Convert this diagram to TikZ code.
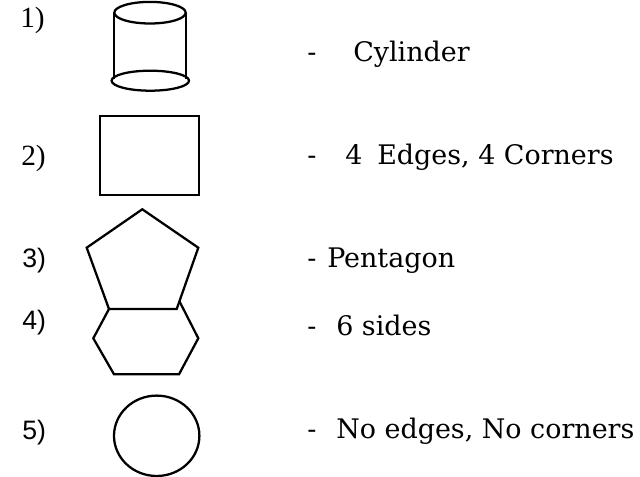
\documentclass[tikz,border=0pt]{standalone}
\usepackage{fontspec}
\setmainfont{Liberation Serif}
\newfontfamily\labelfont{DejaVu Serif}
\newfontfamily\numsans{Liberation Sans}
\newcommand\numsize{\fontsize{20}{24}\selectfont}
\newcommand\numsizeserif{\fontsize{22}{26}\selectfont}
\begin{document}
\begin{tikzpicture}[x=0.75pt,y=-0.75pt,
  shapeline/.style={draw=black,line width=1.7pt,line join=miter},
  lbl/.style={inner sep=0pt,anchor=base west,font=\labelfont\fontsize{20.2}{24}\selectfont},
  numpos/.style={inner sep=0pt,anchor=base west}]
\useasboundingbox (0,0) rectangle (640,477);

% item numbers
\node[numpos] (n1) at (20,27.5) {\numsizeserif 1)};
\node[numpos] (n2) at (21,165.5) {\numsizeserif 2)};
\node[numpos] (n3) at (22,268) {\numsize\numsans 3)};
\node[numpos] (n4) at (22,330) {\numsize\numsans 4)};
\node[numpos] (n5) at (22,440) {\numsize\numsans 5)};

% cylinder
\draw[shapeline] (114.3,12.7) -- (114.3,79);
\draw[shapeline] (185.7,12.7) -- (185.7,79);
\draw[shapeline] (150,12.7) ellipse [x radius=35.7,y radius=10.8];
\draw[shapeline] (150.3,80.7) ellipse [x radius=38.7,y radius=10];

% rectangle
\draw[shapeline] (100,116) rectangle (199,195);

% pentagon
\draw[shapeline] (142.3,209.3) -- (198.3,247.7) -- (176.7,309) -- (109,309) -- (86.7,247.7) -- cycle;
% hexagon, sharing the pentagon's lower edge
\draw[shapeline] (179.3,301) -- (198.3,338.3) -- (179,374.3) -- (114,374.3) -- (93.3,338.3) -- (109,309);

% circle
\draw[shapeline] (156.7,435.8) ellipse [x radius=42.7,y radius=40.2];

% descriptions
\node[lbl] (d1) at (307,62) {-};
\node[lbl] (t1) at (353,62) {Cylinder};
\node[lbl] (d2) at (307,165) {-};
\node[lbl] (t2a) at (345,165) {4};
\node[lbl] (t2b) at (377,165) {Edges, 4 Corners};
\node[lbl] (d3) at (307,268) {-};
\node[lbl] (t3) at (327,268) {Pentagon};
\node[lbl] (d4) at (307,336) {-};
\node[lbl] (t4) at (336,336) {6 sides};
\node[lbl] (d5) at (307,439) {-};
\node[lbl] (t5) at (336,439) {No edges, No corners};
\end{tikzpicture}
\end{document}
